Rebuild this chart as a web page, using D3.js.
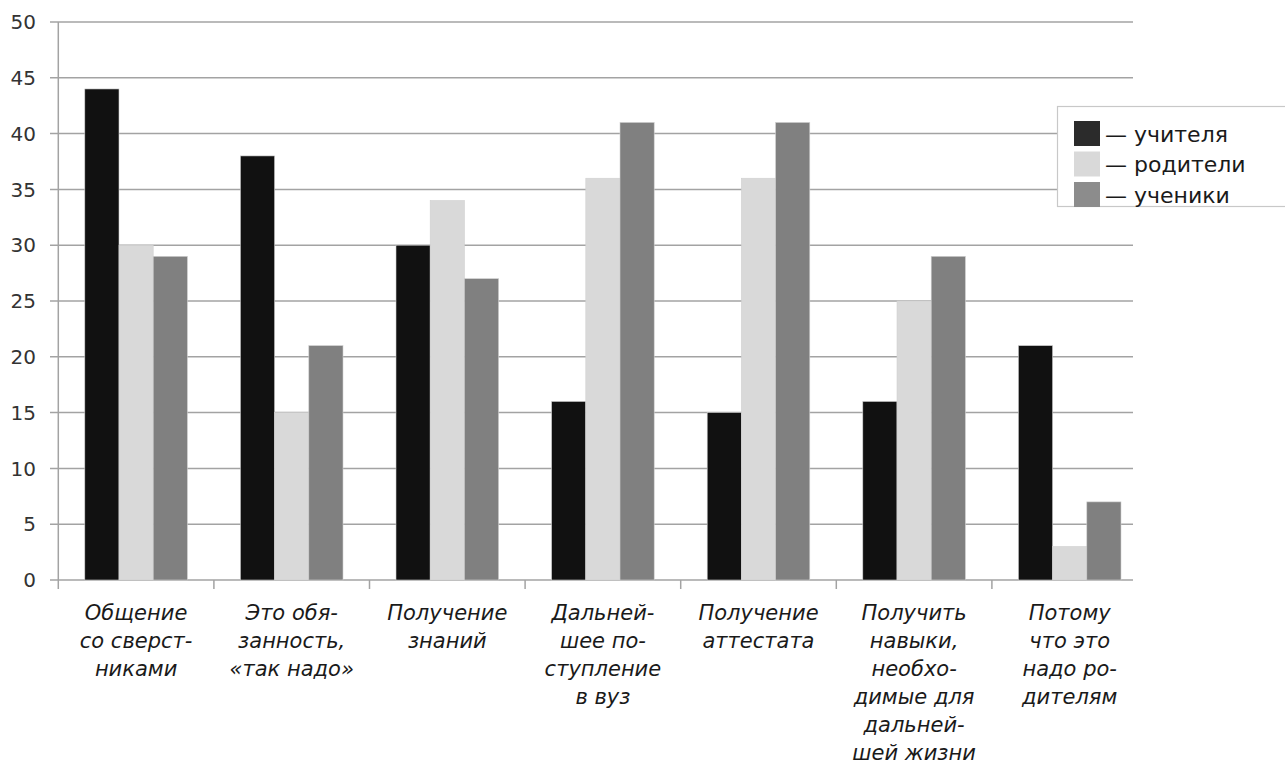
<!DOCTYPE html>
<html><head><meta charset="utf-8">
<script src="https://cdn.jsdelivr.net/npm/d3@7"></script>
<style>body{margin:0;background:#fff}svg{display:block}</style>
</head><body>
<script>
const categories = [
  ["Общение","со сверст-","никами"],
  ["Это обя-","занность,","«так надо»"],
  ["Получение","знаний"],
  ["Дальней-","шее по-","ступление","в вуз"],
  ["Получение","аттестата"],
  ["Получить","навыки,","необхо-","димые для","дальней-","шей жизни"],
  ["Потому","что это","надо ро-","дителям"]
];
const seriesNames = ["учителя","родители","ученики"];
const teachers = [44,38,30,16,15,16,21];
const parents  = [30,15,34,36,36,25,3];
const students = [29,21,27,41,41,29,7];
const yTicks = [0,5,10,15,20,25,30,35,40,45,50];

const barColors = ["#111111","#d9d9d9","#808080"];
const legendColors = ["#2b2b2b","#d9d9d9","#8c8c8c"];
const font = "'DejaVu Sans', sans-serif";

const W=1285,H=766;
const svg=d3.select("body").append("svg").attr("width",W).attr("height",H);
const x0=58.3, bandW=155.6, gridRight=1133;
const x=d3.scaleBand().domain(d3.range(categories.length)).range([x0,x0+bandW*7]).paddingInner(0).paddingOuter(0);
const xs=d3.scaleBand().domain(d3.range(3)).range([26.5,bandW-26.5]).padding(0);
const y=d3.scaleLinear().domain([0,50]).range([580,22]);

const grid="#a3a3a3";
svg.append("g").selectAll("line").data(yTicks).join("line")
  .attr("x1",50).attr("x2",gridRight).attr("y1",d=>y(d)).attr("y2",d=>y(d))
  .attr("stroke",grid).attr("stroke-width",1.5);
svg.append("line").attr("x1",x0).attr("x2",x0).attr("y1",y(50)).attr("y2",589)
  .attr("stroke",grid).attr("stroke-width",1.5);
svg.append("g").selectAll("line").data(d3.range(1,7)).join("line")
  .attr("x1",d=>x0+d*bandW).attr("x2",d=>x0+d*bandW).attr("y1",y(0)).attr("y2",589)
  .attr("stroke",grid).attr("stroke-width",1.5);
svg.append("g").selectAll("text").data(yTicks).join("text")
  .attr("x",36).attr("y",d=>y(d)).attr("dy","0.36em").attr("text-anchor","end")
  .attr("font-family",font).attr("font-size",20).attr("fill","#333").text(d=>d);

const series=[teachers,parents,students];
series.forEach((vals,si)=>{
  svg.append("g").selectAll("rect").data(vals).join("rect")
    .attr("x",(d,i)=>x(i)+xs(si)).attr("width",xs.bandwidth())
    .attr("y",d=>y(d)).attr("height",d=>y(0)-y(d))
    .attr("fill",barColors[si]).attr("stroke","#cfcfcf").attr("stroke-width",0.6);
});

const cl=svg.append("g");
categories.forEach((lines,i)=>{
  const t=cl.append("text").attr("text-anchor","middle").attr("font-family",font)
    .attr("font-style","italic").attr("font-size",21).attr("fill","#1a1a1a");
  lines.forEach((ln,j)=>{
    t.append("tspan").attr("x",x(i)+bandW/2).attr("y",620+j*28).text(ln);
  });
});

const lg=svg.append("g");
lg.append("rect").attr("x",1057.5).attr("y",106.5).attr("width",240).attr("height",100)
  .attr("fill","#fff").attr("stroke","#c8c8c8").attr("stroke-width",1.2);
seriesNames.forEach((n,i)=>{
  const yy=121+i*30.5;
  lg.append("rect").attr("x",1074).attr("y",yy).attr("width",26).attr("height",25).attr("fill",legendColors[i]);
  lg.append("text").attr("x",1105).attr("y",yy+13).attr("dy","0.35em")
    .attr("font-family",font).attr("font-size",22).attr("fill","#1a1a1a").text("— "+n);
});
</script>
</body></html>
